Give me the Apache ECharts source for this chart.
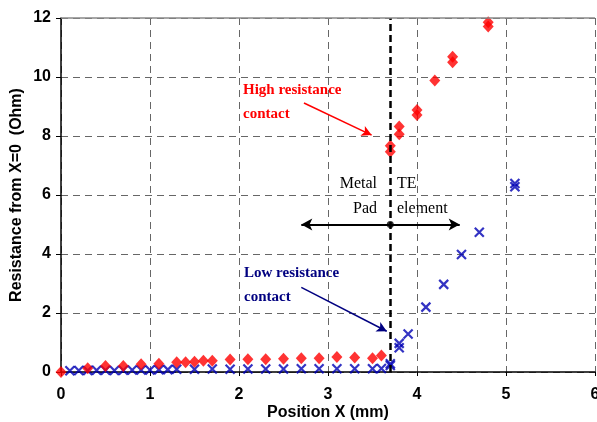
<!DOCTYPE html>
<html><head><meta charset="utf-8">
<script src="https://cdn.jsdelivr.net/npm/echarts@6/dist/echarts.min.js"></script>
<style>html,body{margin:0;padding:0;background:#fff}#c{width:597px;height:422px}</style>
</head><body><div id="c"></div>
<script>
const highX = [0, 0.3, 0.5, 0.7, 0.9, 1.1, 1.3, 1.4, 1.5, 1.6, 1.7, 1.9, 2.1, 2.3, 2.5, 2.7, 2.9, 3.1, 3.3, 3.5, 3.6, 3.7, 3.7, 3.8, 3.8, 4.0, 4.0, 4.2, 4.4, 4.4, 4.8, 4.8];
const highR = [0, 0.13, 0.2, 0.2, 0.26, 0.28, 0.33, 0.33, 0.35, 0.38, 0.38, 0.42, 0.43, 0.43, 0.45, 0.47, 0.47, 0.51, 0.49, 0.47, 0.56, 7.67, 7.47, 8.32, 8.06, 8.88, 8.71, 9.88, 10.69, 10.5, 11.86, 11.71];
const lowX = [0.1, 0.2, 0.3, 0.4, 0.5, 0.6, 0.7, 0.8, 0.9, 1.0, 1.1, 1.2, 1.3, 1.5, 1.7, 1.9, 2.1, 2.3, 2.5, 2.7, 2.9, 3.1, 3.3, 3.5, 3.6, 3.7, 3.7, 3.8, 3.8, 3.9, 4.1, 4.3, 4.5, 4.7, 5.1, 5.1];
const lowR = [0.04, 0.05, 0.05, 0.06, 0.06, 0.05, 0.06, 0.07, 0.07, 0.07, 0.08, 0.08, 0.09, 0.09, 0.1, 0.09, 0.1, 0.1, 0.1, 0.11, 0.11, 0.11, 0.11, 0.11, 0.12, 0.22, 0.28, 0.97, 0.82, 1.29, 2.2, 2.97, 3.98, 4.74, 6.39, 6.28];
const xTicks = [0, 1, 2, 3, 4, 5, 6];
const yTicks = [0, 2, 4, 6, 8, 10, 12];
const boundaryX = 3.7;
const spanArrow = [[2.7, 5], [4.48, 5]];
const highArrow = [[2.73, 9.12], [3.49, 8.03]];
const lowArrow = [[2.7, 2.87], [3.66, 1.38]];

const chart = echarts.init(document.getElementById('c'));
const zip = (a, b) => a.map((v, i) => [v, b[i]]);
const crossPath = 'path://M0,0L10,10M10,0L0,10';
chart.setOption({
  animation: false,
  grid: {left: 61, right: 2, top: 18, bottom: 50, containLabel: false, outerBoundsMode: 'none'},
  xAxis: {
    type: 'value', min: xTicks[0], max: xTicks[xTicks.length-1], interval: 1,
    name: 'Position X (mm)', nameLocation: 'middle', nameGap: 33, nameMoveOverlap: false,
    nameTextStyle: {fontFamily: 'Arial, Liberation Sans', fontWeight: 'bold', fontSize: 16, color: '#000'},
    axisLine: {lineStyle: {color: '#000', width: 1.5}},
    axisTick: {show: true, length: 4, lineStyle: {color: '#000'}},
    axisLabel: {fontFamily: 'Arial, Liberation Sans', fontWeight: 'bold', fontSize: 16, color: '#000', margin: 15},
    splitLine: {show: true, lineStyle: {color: '#666', type: [7, 5], width: 1}}
  },
  yAxis: {
    type: 'value', min: yTicks[0], max: yTicks[yTicks.length-1], interval: 2,
    name: 'Resistance from X=0  (Ohm)', nameLocation: 'middle', nameGap: 36, nameMoveOverlap: false,
    nameTextStyle: {fontFamily: 'Arial, Liberation Sans', fontWeight: 'bold', fontSize: 16, color: '#000'},
    axisLine: {show: true, lineStyle: {color: '#000', width: 1.5}},
    axisTick: {show: true, length: 5, lineStyle: {color: '#000'}},
    axisLabel: {fontFamily: 'Arial, Liberation Sans', fontWeight: 'bold', fontSize: 16, color: '#000', margin: 10},
    splitLine: {show: true, lineStyle: {color: '#666', type: [7, 5], width: 1}}
  },
  series: [
    {
      type: 'scatter', name: 'low', data: zip(lowX, lowR), symbol: crossPath, symbolSize: 9,
      itemStyle: {color: 'rgba(0,0,0,0)', borderColor: '#0000b4', borderWidth: 2.2},
      z: 3,
      markLine: {
        silent: true, symbol: ['none', 'arrow'], symbolSize: [8, 10], label: {show: false},
        lineStyle: {color: '#000080', width: 1.5, type: 'solid'},
        data: [[{coord: lowArrow[0]}, {coord: lowArrow[1]}]]
      }
    },
    {
      type: 'scatter', name: 'high', data: zip(highX, highR), symbol: 'diamond', symbolSize: [11, 12],
      itemStyle: {color: '#ff0000'}, z: 4,
      markLine: {
        silent: true, symbol: ['none', 'arrow'], symbolSize: [8, 10], label: {show: false},
        lineStyle: {color: '#ff0000', width: 1.5, type: 'solid'},
        data: [[{coord: highArrow[0]}, {coord: highArrow[1]}]]
      }
    },
    {
      type: 'scatter', name: 'dot', data: [[boundaryX, 5]], symbol: 'circle', symbolSize: 7,
      itemStyle: {color: '#000'}, z: 6,
      markLine: {
        silent: true, symbol: ['none', 'none'], label: {show: false},
        data: [
          {xAxis: boundaryX, lineStyle: {color: '#000', width: 2.5, type: [7, 4]}},
          {yAxis: 12, lineStyle: {color: '#888', width: 1.5, type: 'solid'}},
          [{coord: spanArrow[0], symbol: 'arrow', lineStyle: {color: '#000', width: 2, type: 'solid'}},
           {coord: spanArrow[1], symbol: 'arrow'}]
        ],
        symbolSize: [9, 11]
      }
    }
  ],
  graphic: [
    {type: 'text', left: 243, top: 78, style: {text: 'High resistance\ncontact', fill: '#ff0000', font: 'bold 15px "Liberation Serif", "Times New Roman", serif', lineHeight: 24}},
    {type: 'text', left: 244, top: 261, style: {text: 'Low resistance\ncontact', fill: '#000080', font: 'bold 15px "Liberation Serif", "Times New Roman", serif', lineHeight: 24}},
    {type: 'text', x: 377, y: 176, style: {text: 'Metal', align: 'right', fill: '#000', font: '16px "Liberation Serif", "Times New Roman", serif'}},
    {type: 'text', x: 377, y: 201, style: {text: 'Pad', align: 'right', fill: '#000', font: '16px "Liberation Serif", "Times New Roman", serif'}},
    {type: 'text', x: 397, y: 176, style: {text: 'TE', fill: '#000', font: '16px "Liberation Serif", "Times New Roman", serif'}},
    {type: 'text', x: 397, y: 201, style: {text: 'element', fill: '#000', font: '16px "Liberation Serif", "Times New Roman", serif'}}
  ]
});
</script></body></html>
